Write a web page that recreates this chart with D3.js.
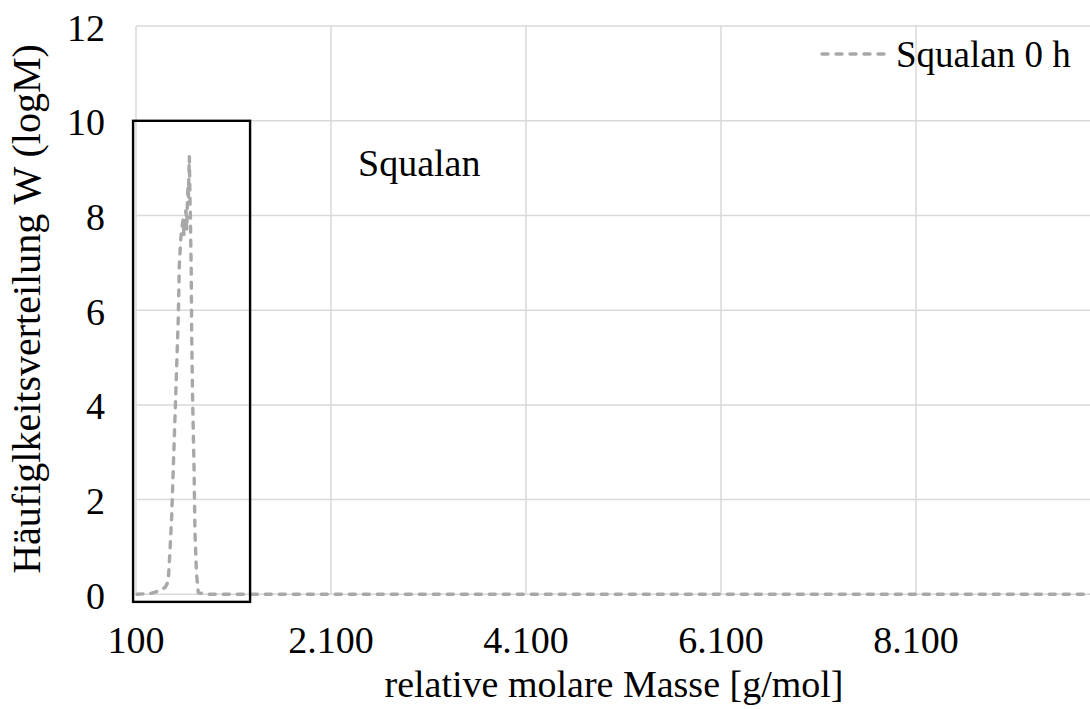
<!DOCTYPE html>
<html>
<head>
<meta charset="utf-8">
<script src="https://cdn.jsdelivr.net/npm/d3@7"></script>
<style>
  html, body { margin: 0; padding: 0; background: #ffffff; overflow: hidden; }
  svg { display: block; }
  text { font-family: "Liberation Serif", "Times New Roman", serif; fill: #000; }
</style>
</head>
<body>
<svg id="chart" width="1090" height="709"></svg>
<script>
// GPC molar mass distribution of squalane at 0 h
const molarMass = [110, 250, 346, 400, 431, 449, 466, 483, 500, 517, 534, 544, 558, 572, 582, 592, 602, 612, 620, 628, 633, 638, 643, 647, 651, 654, 658, 661, 666, 671, 681, 695, 705, 720, 739, 860, 2000, 4000, 6000, 8000, 10100];
const wLogM     = [0.0, 0.02, 0.08, 0.15, 0.27, 0.94, 1.64, 2.7, 3.75, 4.8, 5.86, 6.92, 7.48, 7.76, 7.9, 7.6, 7.95, 8.1, 7.7, 8.3, 8.6, 8.4, 8.9, 9.24, 8.7, 8.3, 8.0, 7.5, 6.92, 5.5, 4.1, 2.7, 1.29, 0.45, 0.03, 0.0, 0.0, 0.0, 0.0, 0.0, 0.0];

const xTicks = [100, 2100, 4100, 6100, 8100];
const yTicks = [0, 2, 4, 6, 8, 10, 12];
const seriesName = "Squalan 0 h";
const noteText = "Squalan";
const xTitle = "relative molare Masse [g/mol]";
const yTitle = "Häufiglkeitsverteilung W (logM)";
// highlighted region around the squalane peak (data units)
const boxX = [70, 1270];
const boxY = [-0.16, 10];

const svg = d3.select("#chart");
const x = d3.scaleLinear().domain([100, 10100]).range([136, 1111]);
const y = d3.scaleLinear().domain([0, 12]).range([594.3, 26.1]);

const grid = "#d9d9d9";
const seriesColor = "#a8a8a8";
const fs = 38;
const fmt = v => d3.format(",")(v).replace(/,/g, ".");

// horizontal gridlines
svg.append("g").selectAll("line").data(yTicks).join("line")
  .attr("x1", x(100)).attr("x2", 1090)
  .attr("y1", d => y(d)).attr("y2", d => y(d))
  .attr("stroke", grid).attr("stroke-width", 1.5);

// vertical gridlines
svg.append("g").selectAll("line").data(xTicks).join("line")
  .attr("x1", d => x(d)).attr("x2", d => x(d))
  .attr("y1", y(12)).attr("y2", y(0))
  .attr("stroke", grid).attr("stroke-width", 1.5);

// y tick labels
svg.append("g").selectAll("text").data(yTicks).join("text")
  .attr("x", 105).attr("y", d => y(d))
  .attr("dy", "0.38em")
  .attr("text-anchor", "end")
  .attr("font-size", fs)
  .text(d => d);

// x tick labels
svg.append("g").selectAll("text").data(xTicks).join("text")
  .attr("x", d => x(d)).attr("y", 653)
  .attr("text-anchor", "middle")
  .attr("font-size", fs)
  .text(d => fmt(d));

// axis titles, centred on the plot area
svg.append("text")
  .attr("x", 614).attr("y", 697)
  .attr("text-anchor", "middle")
  .attr("font-size", fs)
  .text(xTitle);

svg.append("text")
  .attr("transform", "translate(40,309) rotate(-90)")
  .attr("text-anchor", "middle")
  .attr("font-size", 40)
  .text(yTitle);

// series line
const line = d3.line().x((d, i) => x(molarMass[i])).y(d => y(d));
svg.append("path")
  .datum(wLogM)
  .attr("d", line)
  .attr("fill", "none")
  .attr("stroke", seriesColor)
  .attr("stroke-width", 3.4)
  .attr("stroke-linecap", "round")
  .attr("stroke-linejoin", "round")
  .attr("stroke-dasharray", "6,8");

// annotation box
svg.append("rect")
  .attr("x", x(boxX[0])).attr("y", y(boxY[1]))
  .attr("width", x(boxX[1]) - x(boxX[0]))
  .attr("height", y(boxY[0]) - y(boxY[1]))
  .attr("fill", "none")
  .attr("stroke", "#000")
  .attr("stroke-width", 2.4);

svg.append("text")
  .attr("x", 358).attr("y", 176)
  .attr("font-size", fs)
  .text(noteText);

// legend
const lg = svg.append("g");
lg.append("line")
  .attr("x1", 822).attr("x2", 890).attr("y1", 54).attr("y2", 54)
  .attr("stroke", seriesColor).attr("stroke-width", 3.4)
  .attr("stroke-linecap", "round")
  .attr("stroke-dasharray", "6,8");
lg.append("text")
  .attr("x", 896).attr("y", 54).attr("dy", "0.35em")
  .attr("font-size", 37)
  .text(seriesName);
</script>
</body>
</html>
